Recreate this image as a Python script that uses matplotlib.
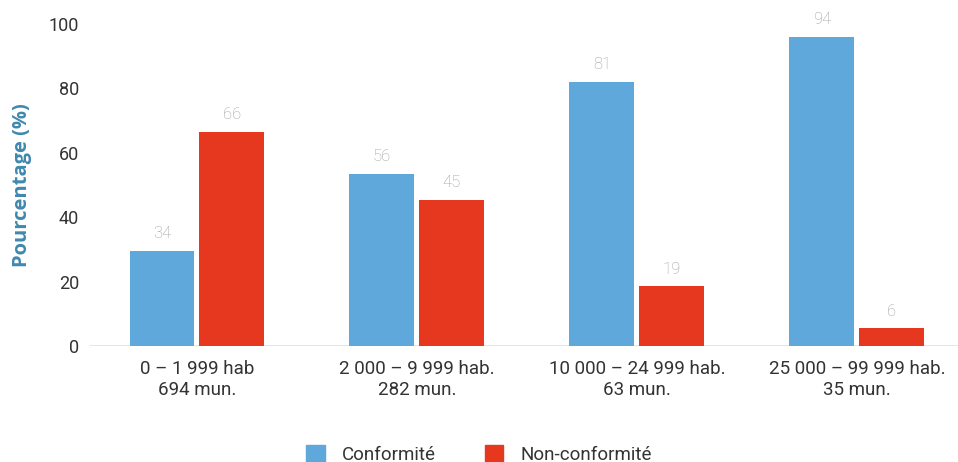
import matplotlib
matplotlib.use("Agg")
import matplotlib.pyplot as plt
import numpy as np
from matplotlib.patches import Patch

plt.rcParams['font.family'] = ['Roboto', 'DejaVu Sans']

# Data
groups = ['0 – 1 999 hab\n694 mun.', '2 000 – 9 999 hab.\n282 mun.',
          '10 000 – 24 999 hab.\n63 mun.', '25 000 – 99 999 hab.\n35 mun.']
conf_labels = [34, 56, 81, 94]
nonconf_labels = [66, 45, 19, 6]
# bar heights as drawn in the picture
conf_heights = [29.5, 53.5, 82, 96]
nonconf_heights = [66.5, 45.5, 18.5, 5.5]

blue = '#5fa8db'
red = '#e5381f'

fig = plt.figure(figsize=(9.58, 4.62), dpi=100)
ax = fig.add_axes([0.094, 0.251, 0.906, 0.697])

x = np.arange(len(groups))
w = 0.295
off = 0.159
b1 = ax.bar(x - off, conf_heights, w, color=blue)
b2 = ax.bar(x + off, nonconf_heights, w, color=red)

for bars, labs in [(b1, conf_labels), (b2, nonconf_labels)]:
    for bar, lab in zip(bars, labs):
        ax.text(bar.get_x() + bar.get_width() / 2, bar.get_height() + 3.0, str(lab),
                ha='center', va='bottom', fontsize=12, color='#a0a0a0',
                fontweight='light', clip_on=False)

ax.set_xlim(-0.486, 3.46)
ax.set_ylim(0, 100)
ax.set_yticks([0, 20, 40, 60, 80, 100])
ax.tick_params(axis='y', length=0, labelsize=13, labelcolor='#333333', pad=8)
ax.tick_params(axis='x', length=0, labelsize=13.5, labelcolor='#333333', pad=10)
ax.set_xticks(x)
ax.set_xticklabels(groups, linespacing=1.25)

for s in ax.spines.values():
    s.set_visible(False)
ax.axhline(0, color='#e0e0e0', lw=1.2, zorder=0)

ax.set_ylabel('Pourcentage (%)', fontsize=14.5, fontweight='bold', color='#3f88ad',
              family=['Open Sans', 'DejaVu Sans'], labelpad=12)

handles = [Patch(color=blue, label='Conformité'), Patch(color=red, label='Non-conformité')]
fig.legend(handles=handles, loc='lower center', bbox_to_anchor=(0.5, -0.04), ncol=2,
           frameon=False, fontsize=13.5, handlelength=1.0, handleheight=1.0,
           columnspacing=2.6, handletextpad=0.9, labelcolor='#333333')

plt.savefig('out.png', dpi=100)
